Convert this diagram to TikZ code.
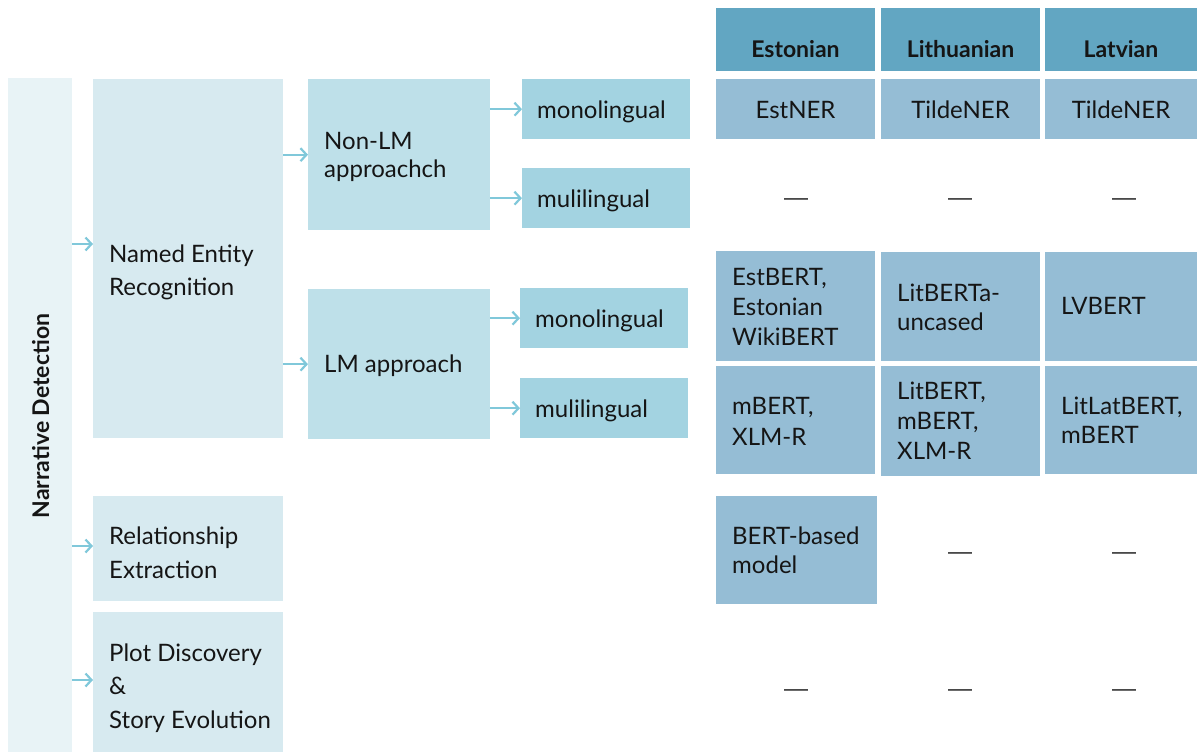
\documentclass[tikz,border=0pt]{standalone}
\usepackage{fontspec}
\setmainfont{Lato}
\newfontfamily\dashfont{Liberation Sans}
\hyphenpenalty=10000 \exhyphenpenalty=10000
\usetikzlibrary{arrows.meta,calc}
\definecolor{cnarr}{HTML}{E8F3F6}
\definecolor{cla}{HTML}{D7EAF0}
\definecolor{clb}{HTML}{BEE0E9}
\definecolor{clc}{HTML}{A3D3E1}
\definecolor{chdr}{HTML}{62A6C2}
\definecolor{ccell}{HTML}{95BDD5}
\definecolor{carrow}{HTML}{80C8DA}
\definecolor{ctext}{HTML}{151515}
\definecolor{cdash}{HTML}{333333}
\begin{document}
\begin{tikzpicture}[x=1pt,y=-1pt,
  box/.style={anchor=north west, inner sep=0pt, draw=none},
  txt/.style={anchor=base west, inner sep=0pt, align=left, text=ctext, font=\fontsize{24}{33.5}\selectfont},
  ctxt/.style={anchor=base, inner sep=0pt, text=ctext, font=\fontsize{24}{29}\selectfont},
  htxt/.style={anchor=base, inner sep=0pt, text=ctext, font=\bfseries\fontsize{23}{26}\selectfont},
  dtxt/.style={anchor=base, inner sep=0pt, text=cdash, font=\dashfont\fontsize{24}{29}\selectfont},
  arr/.style={draw=carrow, line width=2.2pt, -{Straight Barb[length=6pt,width=13pt,line width=2.2pt]}},
]
\useasboundingbox (0,0) rectangle (1197,752);
% left column
\node[box,fill=cnarr,minimum width=64pt,minimum height=674pt] (narr) at (8,78) {};
\node[anchor=base,inner sep=0pt,text=ctext,font=\bfseries\fontsize{23}{26}\selectfont,rotate=90] (narrt) at (49,416) {Narrative Detection};
% level 1 (multi-line text nodes are placed at the baseline of their last line)
\node[box,fill=cla,minimum width=190pt,minimum height=359pt] (ner) at (93,79) {};
\node[box,fill=cla,minimum width=190pt,minimum height=105pt] (re) at (93,496) {};
\node[box,fill=cla,minimum width=190pt,minimum height=140pt] (plot) at (93,612) {};
\node[txt] (nert) at (109,295.5) {Named Entity\\Recognition};
\node[txt] (ret) at (109,578) {Relationship\\Extraction};
\node[txt,font=\fontsize{24}{33.5}\selectfont] (plott) at (109,728) {Plot Discovery\\\&\\Story Evolution};
% level 2
\node[box,fill=clb,minimum width=182pt,minimum height=151pt] (nonlm) at (308,79) {};
\node[box,fill=clb,minimum width=182pt,minimum height=150pt] (lm) at (308,289) {};
\node[txt,font=\fontsize{24}{28}\selectfont] (nonlmt) at (324,177) {Non-LM\\approachch};
\node[txt] (lmt) at (324,372) {LM approach};
% level 3
\node[box,fill=clc,minimum width=168pt,minimum height=60pt] (mono1) at (522,79) {};
\node[box,fill=clc,minimum width=168pt,minimum height=60pt] (multi1) at (522,168) {};
\node[box,fill=clc,minimum width=168pt,minimum height=60pt] (mono2) at (520,288) {};
\node[box,fill=clc,minimum width=168pt,minimum height=60pt] (multi2) at (520,378) {};
\node[txt] (mono1t) at (537,118.5) {monolingual};
\node[txt] (multi1t) at (537,207.5) {mulilingual};
\node[txt] (mono2t) at (535,327.5) {monolingual};
\node[txt] (multi2t) at (535,417.5) {mulilingual};
% header
\node[box,fill=chdr,minimum width=159pt,minimum height=63pt] (hest) at (716,8) {};
\node[box,fill=chdr,minimum width=159pt,minimum height=63pt] (hlit) at (881,8) {};
\node[box,fill=chdr,minimum width=152pt,minimum height=63pt] (hlat) at (1045,8) {};
\node[htxt] (hestt) at (795.5,57.3) {Estonian};
\node[htxt] (hlitt) at (960.5,57.3) {Lithuanian};
\node[htxt] (hlatt) at (1121,57.3) {Latvian};
% row 1
\node[box,fill=ccell,minimum width=159pt,minimum height=60pt] (c11) at (716,79) {};
\node[box,fill=ccell,minimum width=159pt,minimum height=60pt] (c12) at (881,79) {};
\node[box,fill=ccell,minimum width=152pt,minimum height=60pt] (c13) at (1045,79) {};
\node[ctxt] (c11t) at (795.5,118.5) {EstNER};
\node[ctxt] (c12t) at (960.5,118.5) {TildeNER};
\node[ctxt] (c13t) at (1121,118.5) {TildeNER};
% row 2 dashes
\node[dtxt] (d21) at (796,205) {—};
\node[dtxt] (d22) at (960,205) {—};
\node[dtxt] (d23) at (1124,205) {—};
% row 3
\node[box,fill=ccell,minimum width=159pt,minimum height=110pt] (c31) at (716,251) {};
\node[box,fill=ccell,minimum width=159pt,minimum height=109pt] (c32) at (881,252) {};
\node[box,fill=ccell,minimum width=152pt,minimum height=109pt] (c33) at (1045,252) {};
\node[txt,font=\fontsize{24}{30}\selectfont] (c31t) at (732,345) {EstBERT,\\Estonian\\WikiBERT};
\node[txt,font=\fontsize{24}{29}\selectfont] (c32t) at (897,330) {LitBERTa-\\uncased};
\node[txt] (c33t) at (1061,314) {LVBERT};
% row 4
\node[box,fill=ccell,minimum width=159pt,minimum height=108pt] (c41) at (716,366) {};
\node[box,fill=ccell,minimum width=159pt,minimum height=110pt] (c42) at (881,366) {};
\node[box,fill=ccell,minimum width=152pt,minimum height=108pt] (c43) at (1045,366) {};
\node[txt,font=\fontsize{24}{31}\selectfont] (c41t) at (732,445) {mBERT,\\XLM-R};
\node[txt,font=\fontsize{24}{30}\selectfont] (c42t) at (897,459) {LitBERT,\\mBERT,\\XLM-R};
\node[txt,font=\fontsize{24}{28.5}\selectfont] (c43t) at (1061,443) {LitLatBERT,\\mBERT};
% row 5
\node[box,fill=ccell,minimum width=161pt,minimum height=108pt] (c51) at (716,496) {};
\node[txt,font=\fontsize{24}{29}\selectfont] (c51t) at (732,573.3) {BERT-based\\model};
\node[dtxt] (d52) at (960,559) {—};
\node[dtxt] (d53) at (1124,559) {—};
% row 6
\node[dtxt] (d61) at (796,696) {—};
\node[dtxt] (d62) at (960,696) {—};
\node[dtxt] (d63) at (1124,696) {—};
% arrows
\draw[arr] (narr.east |- 0,244) -- (ner.west |- 0,244);
\draw[arr] (narr.east |- 0,546) -- (re.west |- 0,546);
\draw[arr] (narr.east |- 0,680) -- (plot.west |- 0,680);
\draw[arr] (ner.east |- nonlm.west) -- (nonlm.west);
\draw[arr] (ner.east |- lm.west) -- (lm.west);
\draw[arr] (nonlm.east |- mono1.west) -- (mono1.west);
\draw[arr] (nonlm.east |- multi1.west) -- (multi1.west);
\draw[arr] (lm.east |- mono2.west) -- (mono2.west);
\draw[arr] (lm.east |- multi2.west) -- (multi2.west);
\end{tikzpicture}
\end{document}
